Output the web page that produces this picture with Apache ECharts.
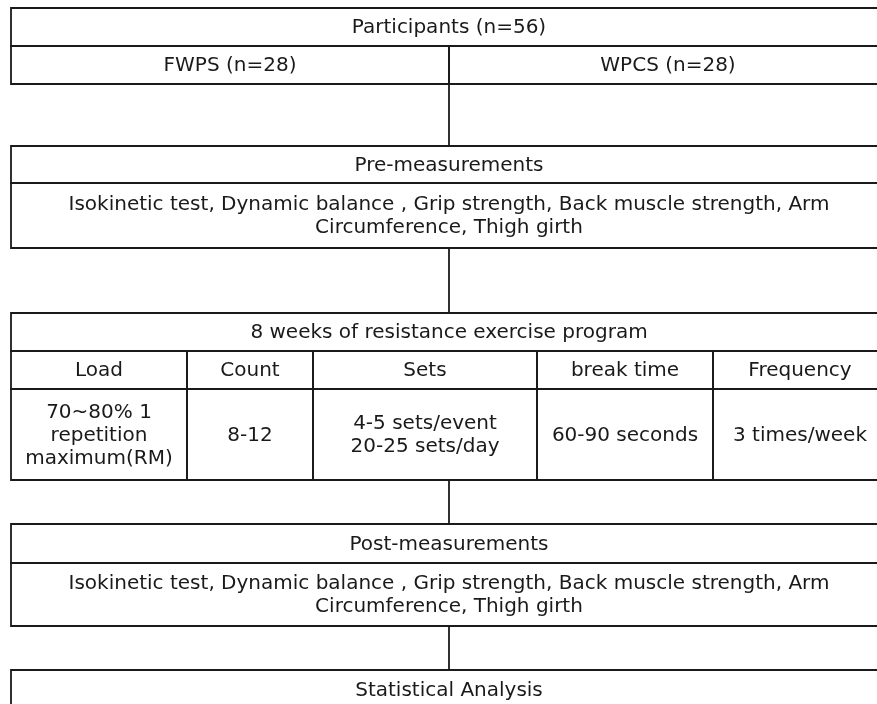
<!DOCTYPE html>
<html><head><meta charset="utf-8">
<script src="https://cdn.jsdelivr.net/npm/echarts@6/dist/echarts.min.js"></script>
<style>html,body{margin:0;padding:0;background:#fff}#c{width:877px;height:704px}</style>
</head><body><div id="c"></div>
<script>
// ---- text content ----
const participantsLabel = 'Participants (n=56)';
const groupLabels = ['FWPS (n=28)', 'WPCS (n=28)'];
const preTitle = 'Pre-measurements';
const measuresText = 'Isokinetic test, Dynamic balance , Grip strength, Back muscle strength, Arm\nCircumference, Thigh girth';
const programTitle = '8 weeks of resistance exercise program';
const programHeaders = ['Load', 'Count', 'Sets', 'break time', 'Frequency'];
const programValues = ['70~80% 1\nrepetition\nmaximum(RM)', '8-12', '4-5 sets/event\n20-25 sets/day', '60-90 seconds', '3 times/week'];
const postTitle = 'Post-measurements';
const analysisTitle = 'Statistical Analysis';

// ---- layout (axis units) ----
const L = 11, R = 887, MID = 449;
const colEdges = [11, 187, 313, 537, 713, 887];
const rowsTop = [8, 46, 84];
const rowsPre = [146, 183, 248];
const rowsProg = [313, 351, 389, 480];
const rowsPost = [524, 563, 626];
const rowsStat = [670, 710];

const cells = [];
const labels = [];
function addCell(x0, y0, x1, y1, t) { cells.push([x0, y0, x1, y1]); labels.push(t); }
addCell(L, rowsTop[0], R, rowsTop[1], participantsLabel);
addCell(L, rowsTop[1], MID, rowsTop[2], groupLabels[0]);
addCell(MID, rowsTop[1], R, rowsTop[2], groupLabels[1]);
addCell(L, rowsPre[0], R, rowsPre[1], preTitle);
addCell(L, rowsPre[1], R, rowsPre[2], measuresText);
addCell(L, rowsProg[0], R, rowsProg[1], programTitle);
programHeaders.forEach((h, i) => addCell(colEdges[i], rowsProg[1], colEdges[i + 1], rowsProg[2], h));
programValues.forEach((v, i) => addCell(colEdges[i], rowsProg[2], colEdges[i + 1], rowsProg[3], v));
addCell(L, rowsPost[0], R, rowsPost[1], postTitle);
addCell(L, rowsPost[1], R, rowsPost[2], measuresText);
addCell(L, rowsStat[0], R, rowsStat[1], analysisTitle);

const connectors = [
  [MID, rowsTop[2], MID, rowsPre[0]],
  [MID, rowsPre[2], MID, rowsProg[0]],
  [MID, rowsProg[3], MID, rowsPost[0]],
  [MID, rowsPost[2], MID, rowsStat[0]]
];

const FONT = '20px "DejaVu Sans", "Noto Sans", sans-serif';
const INK = '#1a1a1a';

const chart = echarts.init(document.getElementById('c'));
chart.setOption({
  animation: false,
  backgroundColor: '#fff',
  grid: { left: 0, right: 0, top: 0, bottom: 0 },
  xAxis: { type: 'value', min: 0, max: 877, show: false },
  yAxis: { type: 'value', min: 0, max: 704, inverse: true, show: false },
  series: [
    {
      type: 'custom',
      clip: false,
      data: connectors,
      renderItem: function (params, api) {
        const a = api.coord([api.value(0), api.value(1)]);
        const b = api.coord([api.value(2), api.value(3)]);
        return { type: 'line', shape: { x1: a[0], y1: a[1], x2: b[0], y2: b[1] }, style: { stroke: INK, lineWidth: 1.8 } };
      }
    },
    {
      type: 'custom',
      clip: false,
      data: cells,
      renderItem: function (params, api) {
        const p0 = api.coord([api.value(0), api.value(1)]);
        const p1 = api.coord([api.value(2), api.value(3)]);
        return {
          type: 'group',
          children: [
            { type: 'rect', shape: { x: p0[0], y: p0[1], width: p1[0] - p0[0], height: p1[1] - p0[1] },
              style: { fill: 'rgba(0,0,0,0)', stroke: INK, lineWidth: 1.8 } },
            { type: 'text', style: { text: labels[params.dataIndex], x: (p0[0] + p1[0]) / 2, y: (p0[1] + p1[1]) / 2 + 1,
              align: 'center', verticalAlign: 'middle', font: FONT, fill: INK, lineHeight: 23 } }
          ]
        };
      }
    }
  ]
});
</script>
</body></html>
